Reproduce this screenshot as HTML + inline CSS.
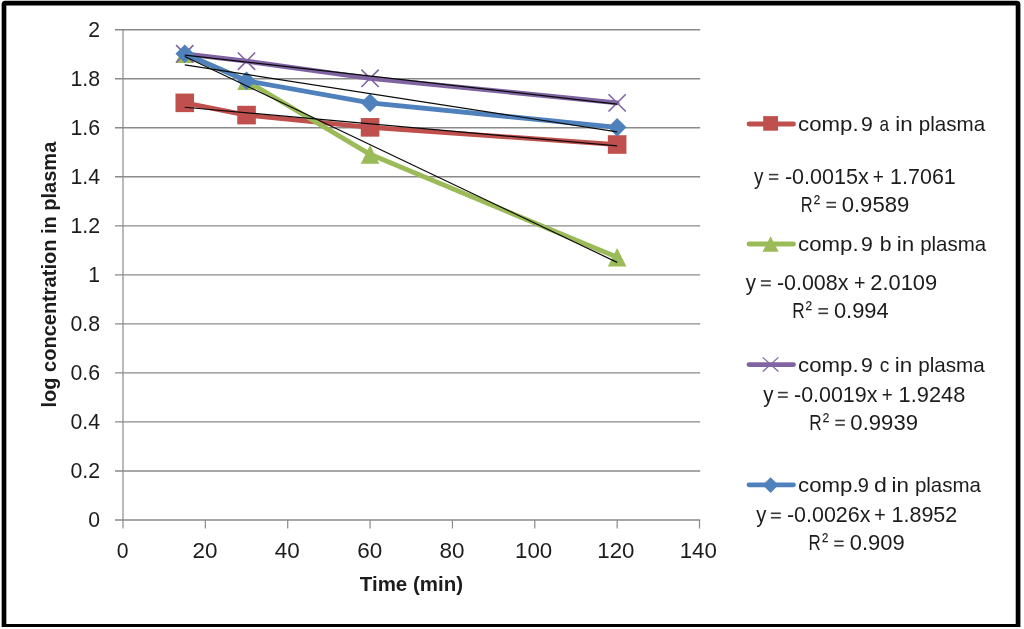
<!DOCTYPE html><html><head><meta charset="utf-8"><style>html,body{margin:0;padding:0;background:#fff;overflow:hidden}svg{display:block;will-change:transform}</style></head><body>
<svg width="1024" height="629" viewBox="0 0 1024 629">
<rect width="1024" height="629" fill="#fff"/>
<line x1="115" y1="520.00" x2="700.2" y2="520.00" stroke="#8a8a8a" stroke-width="1.35"/>
<line x1="115" y1="470.97" x2="700.2" y2="470.97" stroke="#8a8a8a" stroke-width="1.35"/>
<line x1="115" y1="421.94" x2="700.2" y2="421.94" stroke="#8a8a8a" stroke-width="1.35"/>
<line x1="115" y1="372.91" x2="700.2" y2="372.91" stroke="#8a8a8a" stroke-width="1.35"/>
<line x1="115" y1="323.88" x2="700.2" y2="323.88" stroke="#8a8a8a" stroke-width="1.35"/>
<line x1="115" y1="274.85" x2="700.2" y2="274.85" stroke="#8a8a8a" stroke-width="1.35"/>
<line x1="115" y1="225.82" x2="700.2" y2="225.82" stroke="#8a8a8a" stroke-width="1.35"/>
<line x1="115" y1="176.79" x2="700.2" y2="176.79" stroke="#8a8a8a" stroke-width="1.35"/>
<line x1="115" y1="127.76" x2="700.2" y2="127.76" stroke="#8a8a8a" stroke-width="1.35"/>
<line x1="115" y1="78.73" x2="700.2" y2="78.73" stroke="#8a8a8a" stroke-width="1.35"/>
<line x1="115" y1="29.70" x2="700.2" y2="29.70" stroke="#8a8a8a" stroke-width="1.35"/>
<line x1="123.0" y1="29.70" x2="123.0" y2="528.5" stroke="#8a8a8a" stroke-width="1.2"/>
<line x1="205.36" y1="520.0" x2="205.36" y2="528.5" stroke="#8a8a8a" stroke-width="1.2"/>
<line x1="287.71" y1="520.0" x2="287.71" y2="528.5" stroke="#8a8a8a" stroke-width="1.2"/>
<line x1="370.07" y1="520.0" x2="370.07" y2="528.5" stroke="#8a8a8a" stroke-width="1.2"/>
<line x1="452.43" y1="520.0" x2="452.43" y2="528.5" stroke="#8a8a8a" stroke-width="1.2"/>
<line x1="534.79" y1="520.0" x2="534.79" y2="528.5" stroke="#8a8a8a" stroke-width="1.2"/>
<line x1="617.14" y1="520.0" x2="617.14" y2="528.5" stroke="#8a8a8a" stroke-width="1.2"/>
<line x1="699.50" y1="520.0" x2="699.50" y2="528.5" stroke="#8a8a8a" stroke-width="1.2"/>
<text x="100.1" y="527.10" font-family="Liberation Sans, sans-serif" font-size="21.2" text-anchor="end" fill="#1c1c1c">0</text>
<text x="100.1" y="478.07" font-family="Liberation Sans, sans-serif" font-size="21.2" text-anchor="end" fill="#1c1c1c" textLength="29.6" lengthAdjust="spacingAndGlyphs">0.2</text>
<text x="100.1" y="429.04" font-family="Liberation Sans, sans-serif" font-size="21.2" text-anchor="end" fill="#1c1c1c" textLength="29.6" lengthAdjust="spacingAndGlyphs">0.4</text>
<text x="100.1" y="380.01" font-family="Liberation Sans, sans-serif" font-size="21.2" text-anchor="end" fill="#1c1c1c" textLength="29.6" lengthAdjust="spacingAndGlyphs">0.6</text>
<text x="100.1" y="330.98" font-family="Liberation Sans, sans-serif" font-size="21.2" text-anchor="end" fill="#1c1c1c" textLength="29.6" lengthAdjust="spacingAndGlyphs">0.8</text>
<text x="100.1" y="281.95" font-family="Liberation Sans, sans-serif" font-size="21.2" text-anchor="end" fill="#1c1c1c">1</text>
<text x="100.1" y="232.92" font-family="Liberation Sans, sans-serif" font-size="21.2" text-anchor="end" fill="#1c1c1c" textLength="29.6" lengthAdjust="spacingAndGlyphs">1.2</text>
<text x="100.1" y="183.89" font-family="Liberation Sans, sans-serif" font-size="21.2" text-anchor="end" fill="#1c1c1c" textLength="29.6" lengthAdjust="spacingAndGlyphs">1.4</text>
<text x="100.1" y="134.86" font-family="Liberation Sans, sans-serif" font-size="21.2" text-anchor="end" fill="#1c1c1c" textLength="29.6" lengthAdjust="spacingAndGlyphs">1.6</text>
<text x="100.1" y="85.83" font-family="Liberation Sans, sans-serif" font-size="21.2" text-anchor="end" fill="#1c1c1c" textLength="29.6" lengthAdjust="spacingAndGlyphs">1.8</text>
<text x="100.1" y="36.80" font-family="Liberation Sans, sans-serif" font-size="21.2" text-anchor="end" fill="#1c1c1c">2</text>
<text x="122.60" y="557.7" font-family="Liberation Sans, sans-serif" font-size="21.2" text-anchor="middle" fill="#1c1c1c">0</text>
<text x="204.96" y="557.7" font-family="Liberation Sans, sans-serif" font-size="21.2" text-anchor="middle" fill="#1c1c1c" textLength="25.0" lengthAdjust="spacingAndGlyphs">20</text>
<text x="287.31" y="557.7" font-family="Liberation Sans, sans-serif" font-size="21.2" text-anchor="middle" fill="#1c1c1c" textLength="25.0" lengthAdjust="spacingAndGlyphs">40</text>
<text x="369.67" y="557.7" font-family="Liberation Sans, sans-serif" font-size="21.2" text-anchor="middle" fill="#1c1c1c" textLength="25.0" lengthAdjust="spacingAndGlyphs">60</text>
<text x="452.03" y="557.7" font-family="Liberation Sans, sans-serif" font-size="21.2" text-anchor="middle" fill="#1c1c1c" textLength="25.0" lengthAdjust="spacingAndGlyphs">80</text>
<text x="533.59" y="557.7" font-family="Liberation Sans, sans-serif" font-size="21.2" text-anchor="middle" fill="#1c1c1c" textLength="37.2" lengthAdjust="spacingAndGlyphs">100</text>
<text x="615.94" y="557.7" font-family="Liberation Sans, sans-serif" font-size="21.2" text-anchor="middle" fill="#1c1c1c" textLength="37.2" lengthAdjust="spacingAndGlyphs">120</text>
<text x="698.30" y="557.7" font-family="Liberation Sans, sans-serif" font-size="21.2" text-anchor="middle" fill="#1c1c1c" textLength="37.2" lengthAdjust="spacingAndGlyphs">140</text>
<text x="411.4" y="591.2" font-family="Liberation Sans, sans-serif" font-size="20.5" font-weight="bold" fill="#1c1c1c" text-anchor="middle" textLength="103.2" lengthAdjust="spacingAndGlyphs">Time (min)</text>
<text transform="translate(56.1,274.6) rotate(-90)" x="0" y="0" font-family="Liberation Sans, sans-serif" font-size="20.5" font-weight="bold" fill="#1c1c1c" text-anchor="middle" textLength="265.8" lengthAdjust="spacingAndGlyphs">log concentration in plasma</text>
<polyline points="184.77,102.84 246.54,115.10 370.07,127.36 617.14,144.52" fill="none" stroke="#C0504D" stroke-width="4.8" stroke-linejoin="round" stroke-linecap="round"/>
<rect x="175.47" y="93.55" width="18.60" height="18.60" fill="#C0504D"/>
<rect x="237.24" y="105.80" width="18.60" height="18.60" fill="#C0504D"/>
<rect x="360.77" y="118.06" width="18.60" height="18.60" fill="#C0504D"/>
<rect x="607.84" y="135.22" width="18.60" height="18.60" fill="#C0504D"/>
<polyline points="184.77,53.82 246.54,80.78 370.07,154.33 617.14,257.29" fill="none" stroke="#9BBB59" stroke-width="4.8" stroke-linejoin="round" stroke-linecap="round"/>
<path d="M184.77 44.52 L194.07 63.12 L175.47 63.12 Z" fill="#9BBB59"/>
<path d="M246.54 71.48 L255.84 90.08 L237.24 90.08 Z" fill="#9BBB59"/>
<path d="M370.07 145.03 L379.37 163.63 L360.77 163.63 Z" fill="#9BBB59"/>
<path d="M617.14 247.99 L626.44 266.59 L607.84 266.59 Z" fill="#9BBB59"/>
<polyline points="184.77,53.82 246.54,61.17 370.07,78.33 617.14,102.84" fill="none" stroke="#8064A2" stroke-width="4.8" stroke-linejoin="round" stroke-linecap="round"/>
<path d="M176.12 45.17 L193.42 62.46 M193.42 45.17 L176.12 62.46" stroke="#8064A2" stroke-width="1.6" fill="none"/>
<path d="M237.89 52.52 L255.18 69.82 M255.18 52.52 L237.89 69.82" stroke="#8064A2" stroke-width="1.6" fill="none"/>
<path d="M361.42 69.68 L378.72 86.98 M378.72 69.68 L361.42 86.98" stroke="#8064A2" stroke-width="1.6" fill="none"/>
<path d="M608.49 94.20 L625.79 111.49 M625.79 94.20 L608.49 111.49" stroke="#8064A2" stroke-width="1.6" fill="none"/>
<polyline points="184.77,53.82 246.54,80.78 370.07,102.84 617.14,127.36" fill="none" stroke="#4F81BD" stroke-width="4.8" stroke-linejoin="round" stroke-linecap="round"/>
<path d="M184.77 44.52 L194.07 53.82 L184.77 63.12 L175.47 53.82 Z" fill="#4F81BD"/>
<path d="M246.54 71.48 L255.84 80.78 L246.54 90.08 L237.24 80.78 Z" fill="#4F81BD"/>
<path d="M370.07 93.55 L379.37 102.84 L370.07 112.14 L360.77 102.84 Z" fill="#4F81BD"/>
<path d="M617.14 118.06 L626.44 127.36 L617.14 136.66 L607.84 127.36 Z" fill="#4F81BD"/>
<line x1="184.77" y1="107.27" x2="617.14" y2="145.88" stroke="#0a0a0a" stroke-width="1.2"/>
<line x1="184.77" y1="56.45" x2="617.14" y2="262.37" stroke="#0a0a0a" stroke-width="1.2"/>
<line x1="184.77" y1="55.12" x2="617.14" y2="104.03" stroke="#0a0a0a" stroke-width="1.2"/>
<line x1="184.77" y1="64.95" x2="617.14" y2="131.88" stroke="#0a0a0a" stroke-width="1.2"/>
<line x1="749" y1="124.0" x2="793.5" y2="124.0" stroke="#C0504D" stroke-width="4.8" stroke-linecap="round"/>
<rect x="763.20" y="116.10" width="14.80" height="14.60" fill="#C0504D"/>
<text x="798.14" y="130.5" font-family="Liberation Sans, sans-serif" font-size="21.0" fill="#1c1c1c" textLength="60.47" lengthAdjust="spacingAndGlyphs">comp.</text>
<text x="860.99" y="130.5" font-family="Liberation Sans, sans-serif" font-size="21.0" fill="#1c1c1c" textLength="11.80" lengthAdjust="spacingAndGlyphs">9</text>
<text x="879.48" y="130.5" font-family="Liberation Sans, sans-serif" font-size="21.0" fill="#1c1c1c" textLength="9.56" lengthAdjust="spacingAndGlyphs">a</text>
<text x="895.24" y="130.5" font-family="Liberation Sans, sans-serif" font-size="21.0" fill="#1c1c1c" textLength="17.41" lengthAdjust="spacingAndGlyphs">in</text>
<text x="918.72" y="130.5" font-family="Liberation Sans, sans-serif" font-size="21.0" fill="#1c1c1c" textLength="66.39" lengthAdjust="spacingAndGlyphs">plasma</text>
<text x="753.90" y="183.6" font-family="Liberation Sans, sans-serif" font-size="21.8" fill="#1c1c1c" textLength="9.42" lengthAdjust="spacingAndGlyphs">y</text>
<rect x="769.00" y="173.80" width="9.30" height="1.6" fill="#3a3a3a"/><rect x="769.00" y="178.25" width="9.30" height="1.6" fill="#3a3a3a"/>
<text x="784.91" y="183.6" font-family="Liberation Sans, sans-serif" font-size="21.8" fill="#1c1c1c" textLength="83.92" lengthAdjust="spacingAndGlyphs">-0.0015x</text>
<text x="872.83" y="183.6" font-family="Liberation Sans, sans-serif" font-size="21.8" fill="#1c1c1c" textLength="11.11" lengthAdjust="spacingAndGlyphs">+</text>
<text x="890.12" y="183.6" font-family="Liberation Sans, sans-serif" font-size="21.8" fill="#1c1c1c" textLength="65.65" lengthAdjust="spacingAndGlyphs">1.7061</text>
<text x="800.79" y="211.6" font-family="Liberation Sans, sans-serif" font-size="21.8" fill="#1c1c1c" textLength="11.87" lengthAdjust="spacingAndGlyphs">R</text>
<text x="813.80" y="209.7" font-family="Liberation Sans, sans-serif" font-size="21.8" fill="#1c1c1c" textLength="6.44" lengthAdjust="spacingAndGlyphs">²</text>
<rect x="826.50" y="201.80" width="9.50" height="1.6" fill="#3a3a3a"/><rect x="826.50" y="206.25" width="9.50" height="1.6" fill="#3a3a3a"/>
<text x="841.69" y="211.6" font-family="Liberation Sans, sans-serif" font-size="21.8" fill="#1c1c1c" textLength="67.60" lengthAdjust="spacingAndGlyphs">0.9589</text>
<line x1="749" y1="244.0" x2="793.5" y2="244.0" stroke="#9BBB59" stroke-width="4.8" stroke-linecap="round"/>
<path d="M770.60 236.35 L778.70 251.75 L762.50 251.75 Z" fill="#9BBB59"/>
<text x="798.14" y="251.2" font-family="Liberation Sans, sans-serif" font-size="21.0" fill="#1c1c1c" textLength="60.47" lengthAdjust="spacingAndGlyphs">comp.</text>
<text x="860.99" y="251.2" font-family="Liberation Sans, sans-serif" font-size="21.0" fill="#1c1c1c" textLength="11.80" lengthAdjust="spacingAndGlyphs">9</text>
<text x="879.69" y="251.2" font-family="Liberation Sans, sans-serif" font-size="21.0" fill="#1c1c1c" textLength="11.80" lengthAdjust="spacingAndGlyphs">b</text>
<text x="896.74" y="251.2" font-family="Liberation Sans, sans-serif" font-size="21.0" fill="#1c1c1c" textLength="17.41" lengthAdjust="spacingAndGlyphs">in</text>
<text x="920.13" y="251.2" font-family="Liberation Sans, sans-serif" font-size="21.0" fill="#1c1c1c" textLength="65.99" lengthAdjust="spacingAndGlyphs">plasma</text>
<text x="745.70" y="290.0" font-family="Liberation Sans, sans-serif" font-size="21.8" fill="#1c1c1c" textLength="10.21" lengthAdjust="spacingAndGlyphs">y</text>
<rect x="760.90" y="280.20" width="9.90" height="1.6" fill="#3a3a3a"/><rect x="760.90" y="284.65" width="9.90" height="1.6" fill="#3a3a3a"/>
<text x="776.92" y="290.0" font-family="Liberation Sans, sans-serif" font-size="21.8" fill="#1c1c1c" textLength="71.47" lengthAdjust="spacingAndGlyphs">-0.008x</text>
<text x="853.90" y="290.0" font-family="Liberation Sans, sans-serif" font-size="21.8" fill="#1c1c1c" textLength="11.46" lengthAdjust="spacingAndGlyphs">+</text>
<text x="870.30" y="290.0" font-family="Liberation Sans, sans-serif" font-size="21.8" fill="#1c1c1c" textLength="66.88" lengthAdjust="spacingAndGlyphs">2.0109</text>
<text x="792.32" y="317.9" font-family="Liberation Sans, sans-serif" font-size="21.8" fill="#1c1c1c" textLength="12.48" lengthAdjust="spacingAndGlyphs">R</text>
<text x="805.60" y="316.0" font-family="Liberation Sans, sans-serif" font-size="21.8" fill="#1c1c1c" textLength="6.54" lengthAdjust="spacingAndGlyphs">²</text>
<rect x="818.40" y="308.10" width="9.60" height="1.6" fill="#3a3a3a"/><rect x="818.40" y="312.55" width="9.60" height="1.6" fill="#3a3a3a"/>
<text x="833.90" y="317.9" font-family="Liberation Sans, sans-serif" font-size="21.8" fill="#1c1c1c" textLength="54.75" lengthAdjust="spacingAndGlyphs">0.994</text>
<line x1="749" y1="364.6" x2="793.5" y2="364.6" stroke="#8064A2" stroke-width="4.8" stroke-linecap="round"/>
<path d="M762.79 357.38 L778.41 371.52 M778.41 357.38 L762.79 371.52" stroke="#8064A2" stroke-width="1.25" fill="none"/>
<text x="798.14" y="371.7" font-family="Liberation Sans, sans-serif" font-size="21.0" fill="#1c1c1c" textLength="60.47" lengthAdjust="spacingAndGlyphs">comp.</text>
<text x="860.99" y="371.7" font-family="Liberation Sans, sans-serif" font-size="21.0" fill="#1c1c1c" textLength="11.80" lengthAdjust="spacingAndGlyphs">9</text>
<text x="879.79" y="371.7" font-family="Liberation Sans, sans-serif" font-size="21.0" fill="#1c1c1c" textLength="9.57" lengthAdjust="spacingAndGlyphs">c</text>
<text x="894.84" y="371.7" font-family="Liberation Sans, sans-serif" font-size="21.0" fill="#1c1c1c" textLength="17.41" lengthAdjust="spacingAndGlyphs">in</text>
<text x="918.22" y="371.7" font-family="Liberation Sans, sans-serif" font-size="21.0" fill="#1c1c1c" textLength="66.59" lengthAdjust="spacingAndGlyphs">plasma</text>
<text x="763.20" y="401.6" font-family="Liberation Sans, sans-serif" font-size="21.8" fill="#1c1c1c" textLength="10.21" lengthAdjust="spacingAndGlyphs">y</text>
<rect x="778.00" y="391.80" width="9.80" height="1.6" fill="#3a3a3a"/><rect x="778.00" y="396.25" width="9.80" height="1.6" fill="#3a3a3a"/>
<text x="794.02" y="401.6" font-family="Liberation Sans, sans-serif" font-size="21.8" fill="#1c1c1c" textLength="83.41" lengthAdjust="spacingAndGlyphs">-0.0019x</text>
<text x="881.75" y="401.6" font-family="Liberation Sans, sans-serif" font-size="21.8" fill="#1c1c1c" textLength="10.88" lengthAdjust="spacingAndGlyphs">+</text>
<text x="898.60" y="401.6" font-family="Liberation Sans, sans-serif" font-size="21.8" fill="#1c1c1c" textLength="66.67" lengthAdjust="spacingAndGlyphs">1.9248</text>
<text x="809.22" y="429.5" font-family="Liberation Sans, sans-serif" font-size="21.8" fill="#1c1c1c" textLength="12.48" lengthAdjust="spacingAndGlyphs">R</text>
<text x="822.80" y="427.6" font-family="Liberation Sans, sans-serif" font-size="21.8" fill="#1c1c1c" textLength="6.44" lengthAdjust="spacingAndGlyphs">²</text>
<rect x="835.30" y="419.70" width="9.50" height="1.6" fill="#3a3a3a"/><rect x="835.30" y="424.15" width="9.50" height="1.6" fill="#3a3a3a"/>
<text x="850.39" y="429.5" font-family="Liberation Sans, sans-serif" font-size="21.8" fill="#1c1c1c" textLength="67.60" lengthAdjust="spacingAndGlyphs">0.9939</text>
<line x1="749" y1="484.8" x2="793.5" y2="484.8" stroke="#4F81BD" stroke-width="4.8" stroke-linecap="round"/>
<path d="M770.60 477.15 L778.50 485.05 L770.60 492.95 L762.70 485.05 Z" fill="#4F81BD"/>
<text x="798.14" y="491.7" font-family="Liberation Sans, sans-serif" font-size="21.0" fill="#1c1c1c" textLength="60.47" lengthAdjust="spacingAndGlyphs">comp.</text>
<text x="857.85" y="491.7" font-family="Liberation Sans, sans-serif" font-size="21.0" fill="#1c1c1c" textLength="11.10" lengthAdjust="spacingAndGlyphs">9</text>
<text x="873.90" y="491.7" font-family="Liberation Sans, sans-serif" font-size="21.0" fill="#1c1c1c" textLength="12.86" lengthAdjust="spacingAndGlyphs">d</text>
<text x="891.44" y="491.7" font-family="Liberation Sans, sans-serif" font-size="21.0" fill="#1c1c1c" textLength="17.41" lengthAdjust="spacingAndGlyphs">in</text>
<text x="914.92" y="491.7" font-family="Liberation Sans, sans-serif" font-size="21.0" fill="#1c1c1c" textLength="66.09" lengthAdjust="spacingAndGlyphs">plasma</text>
<text x="756.20" y="522.3" font-family="Liberation Sans, sans-serif" font-size="21.8" fill="#1c1c1c" textLength="10.11" lengthAdjust="spacingAndGlyphs">y</text>
<rect x="770.90" y="512.50" width="9.90" height="1.6" fill="#3a3a3a"/><rect x="770.90" y="516.95" width="9.90" height="1.6" fill="#3a3a3a"/>
<text x="786.92" y="522.3" font-family="Liberation Sans, sans-serif" font-size="21.8" fill="#1c1c1c" textLength="83.52" lengthAdjust="spacingAndGlyphs">-0.0026x</text>
<text x="874.20" y="522.3" font-family="Liberation Sans, sans-serif" font-size="21.8" fill="#1c1c1c" textLength="11.46" lengthAdjust="spacingAndGlyphs">+</text>
<text x="891.51" y="522.3" font-family="Liberation Sans, sans-serif" font-size="21.8" fill="#1c1c1c" textLength="65.75" lengthAdjust="spacingAndGlyphs">1.8952</text>
<text x="808.55" y="550.3" font-family="Liberation Sans, sans-serif" font-size="21.8" fill="#1c1c1c" textLength="12.24" lengthAdjust="spacingAndGlyphs">R</text>
<text x="822.10" y="548.4" font-family="Liberation Sans, sans-serif" font-size="21.8" fill="#1c1c1c" textLength="6.23" lengthAdjust="spacingAndGlyphs">²</text>
<rect x="834.30" y="540.50" width="9.30" height="1.6" fill="#3a3a3a"/><rect x="834.30" y="544.95" width="9.30" height="1.6" fill="#3a3a3a"/>
<text x="849.69" y="550.3" font-family="Liberation Sans, sans-serif" font-size="21.8" fill="#1c1c1c" textLength="54.96" lengthAdjust="spacingAndGlyphs">0.909</text>
<path fill-rule="evenodd" fill="#000" d="M1.65 4.3 Q1.65 0.8 5.15 0.8 L1016.9 0.8 Q1020.4 0.8 1020.4 4.3 L1020.4 627.0 L1.65 627.0 Z M6.35 5.6 L6.35 623.9 L1015.7 623.9 L1015.7 5.6 Z"/>
</svg></body></html>
